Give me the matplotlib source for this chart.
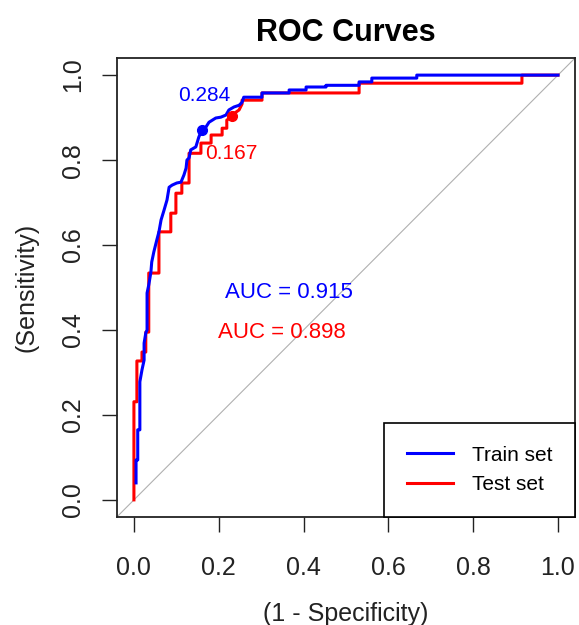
import matplotlib
matplotlib.use("Agg")
import matplotlib.pyplot as plt

plt.rcParams['font.family'] = ['Liberation Sans', 'DejaVu Sans']

# ROC curve (1 - specificity, sensitivity)
train_fpr = [0.005, 0.005, 0.009, 0.009, 0.014, 0.014, 0.019, 0.024, 0.024, 0.028,
             0.031, 0.031, 0.035, 0.040, 0.042, 0.047, 0.054, 0.059, 0.064, 0.071,
             0.078, 0.083, 0.090, 0.101, 0.111, 0.118, 0.123, 0.125, 0.130, 0.134,
             0.146, 0.153, 0.160, 0.170, 0.177, 0.193, 0.205, 0.217, 0.224, 0.236,
             0.248, 0.255, 0.259, 0.302, 0.302, 0.366, 0.366, 0.406, 0.406, 0.453,
             0.453, 0.531, 0.531, 0.561, 0.561, 0.667, 0.667, 1.0]
train_tpr = [0.040, 0.094, 0.094, 0.165, 0.165, 0.278, 0.306, 0.329, 0.369, 0.393,
             0.400, 0.487, 0.506, 0.536, 0.560, 0.584, 0.612, 0.631, 0.659, 0.682,
             0.706, 0.736, 0.741, 0.746, 0.748, 0.765, 0.781, 0.800, 0.805, 0.824,
             0.831, 0.854, 0.871, 0.878, 0.889, 0.899, 0.901, 0.906, 0.918, 0.925,
             0.929, 0.936, 0.948, 0.948, 0.958, 0.958, 0.965, 0.965, 0.972, 0.972,
             0.976, 0.976, 0.984, 0.984, 0.993, 0.993, 1.0, 1.0]

test_fpr = [0.0, 0.0, 0.007, 0.007, 0.019, 0.019, 0.028, 0.028, 0.035, 0.035,
            0.059, 0.059, 0.087, 0.087, 0.099, 0.099, 0.113, 0.113, 0.130, 0.130,
            0.158, 0.158, 0.182, 0.182, 0.208, 0.208, 0.219, 0.219, 0.229, 0.238,
            0.248, 0.255, 0.255, 0.302, 0.302, 0.531, 0.531, 0.915, 0.915, 1.0]
test_tpr = [0.0, 0.231, 0.231, 0.327, 0.327, 0.348, 0.348, 0.395, 0.395, 0.534,
            0.534, 0.631, 0.631, 0.675, 0.675, 0.722, 0.722, 0.746, 0.746, 0.816,
            0.816, 0.840, 0.840, 0.859, 0.859, 0.875, 0.875, 0.894, 0.901, 0.911,
            0.918, 0.932, 0.941, 0.941, 0.958, 0.958, 0.981, 0.981, 1.0, 1.0]

# best thresholds
train_cut = (0.160, 0.871, "0.284")
test_cut = (0.231, 0.904, "0.167")
train_auc = "AUC = 0.915"
test_auc = "AUC = 0.898"

fig = plt.figure(figsize=(5.79, 6.25), dpi=100)
ax = fig.add_axes([0.202, 0.173, 0.791, 0.734])

ax.axline((0, 0), (1, 1), color='#b0b0b0', lw=0.8, zorder=1)
ax.plot(train_fpr, train_tpr, color='blue', lw=2.2, label='Train set', zorder=3)
ax.plot(test_fpr, test_tpr, color='red', lw=2.2, label='Test set', zorder=2)
ax.plot(train_cut[0], train_cut[1], 'o', color='blue', ms=7, zorder=4)
ax.plot(test_cut[0], test_cut[1], 'o', color='red', ms=7, zorder=4)
ax.text(0.165, 0.953, train_cut[2], color='blue', fontsize=15, ha='center', va='center')
ax.text(0.229, 0.816, test_cut[2], color='red', fontsize=15, ha='center', va='center')
ax.text(0.366, 0.489, train_auc, color='blue', fontsize=16, ha='center', va='center')
ax.text(0.349, 0.395, test_auc, color='red', fontsize=16, ha='center', va='center')

ax.set_xlim(-0.04, 1.04)
ax.set_ylim(-0.04, 1.04)
ticks = [0.0, 0.2, 0.4, 0.6, 0.8, 1.0]
ax.set_xticks(ticks)
ax.set_yticks(ticks)
ax.set_xticklabels([f'{t:.1f}' for t in ticks])
ax.set_yticklabels([f'{t:.1f}' for t in ticks], rotation=90, va='center')
ax.tick_params(axis='both', labelsize=18, length=11, width=1, color='#222222',
               labelcolor='#222222')
ax.tick_params(axis='x', pad=17)
ax.tick_params(axis='y', pad=12)
for s in ax.spines.values():
    s.set_linewidth(1.3)
    s.set_color('#222222')

ax.set_xlabel('(1 - Specificity)', fontsize=18, labelpad=16, color='#222222')
ax.set_ylabel('(Sensitivity)', fontsize=18, labelpad=16, color='#222222')
ax.set_title('ROC Curves', fontsize=22, fontweight='bold', pad=12)

leg = ax.legend(loc='lower right', fontsize=15, frameon=True, fancybox=False,
                edgecolor='black', framealpha=1, borderaxespad=0, borderpad=1.1,
                handlelength=2.2, handletextpad=0.9, labelspacing=0.5)
leg.get_frame().set_linewidth(1.2)

fig.savefig('out.png', dpi=100)
